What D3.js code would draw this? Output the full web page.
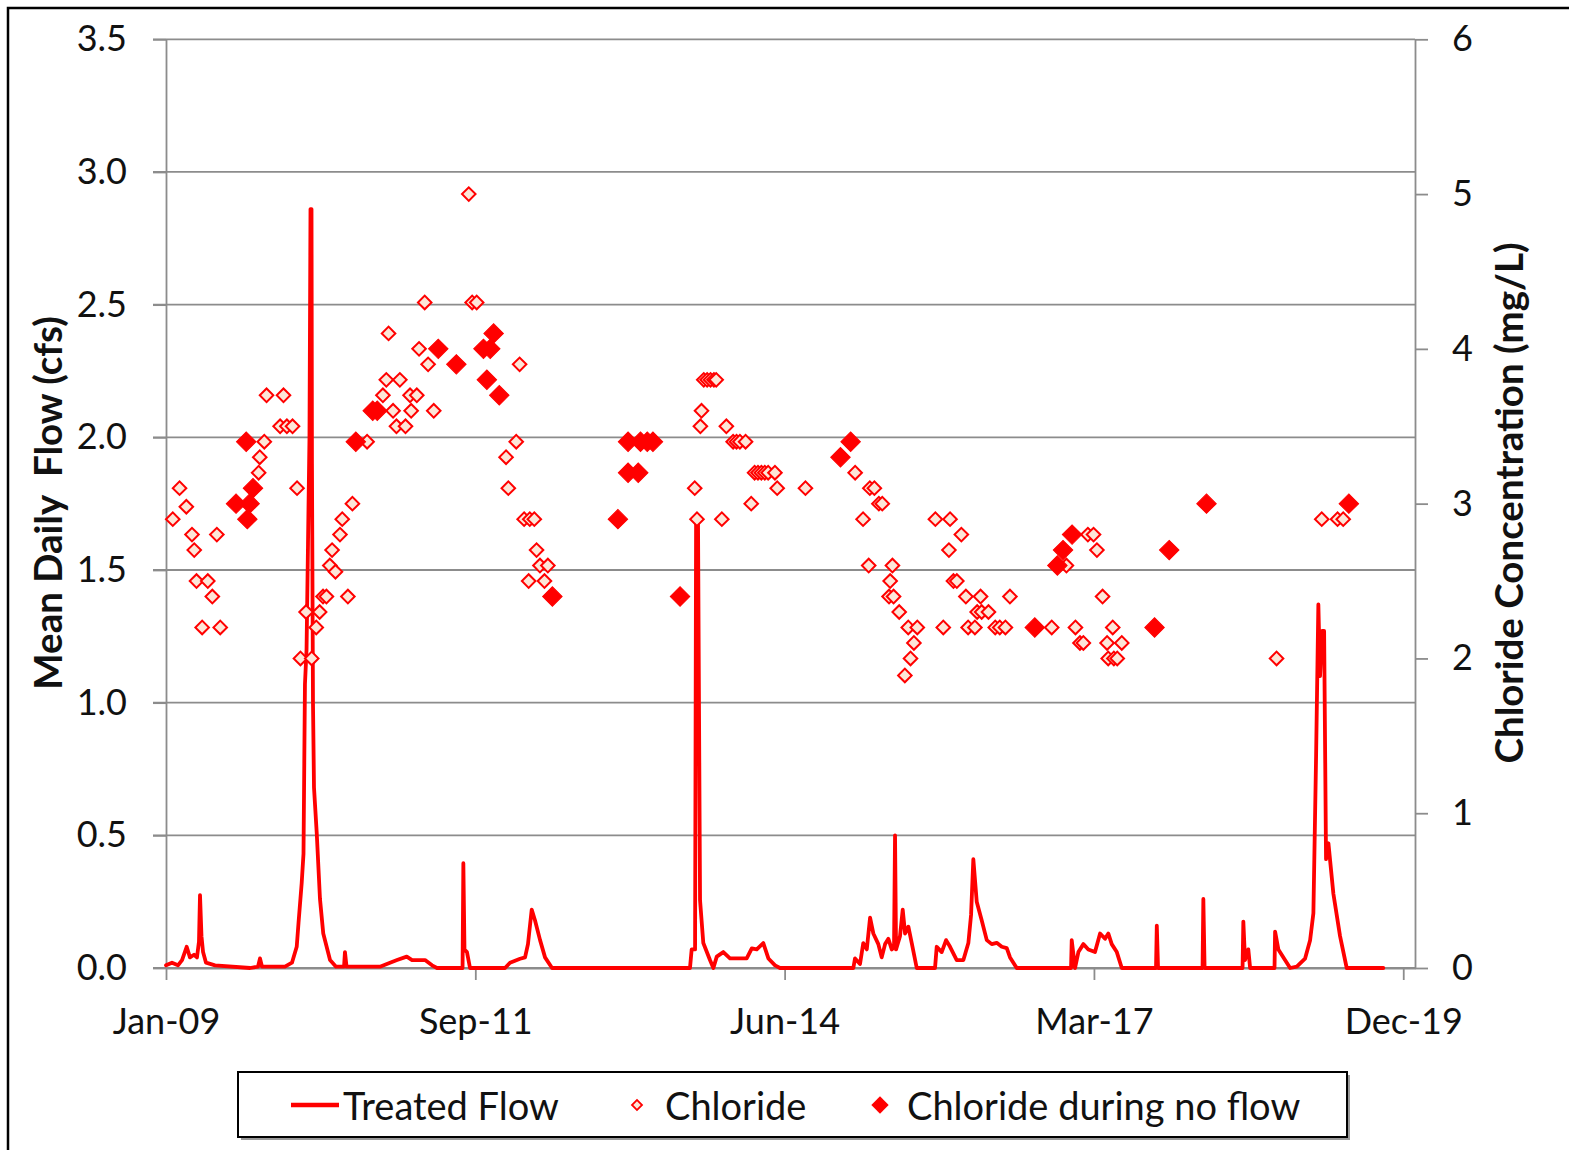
<!DOCTYPE html>
<html>
<head>
<meta charset="utf-8">
<script src="https://cdn.jsdelivr.net/npm/d3@7"></script>
<style>
  html, body { margin: 0; padding: 0; background: #fff; }
  svg { display: block; }
  text { font-family: Lato, "Open Sans", sans-serif; fill: #111; }
</style>
</head>
<body>
<div id="chart"></div>
<script>
// ---------------- DATA (decimal years) ----------------
const flowYears = [2009.000,2009.053,2009.106,2009.142,2009.183,2009.212,2009.248,2009.274,2009.292,2009.301,2009.314,2009.328,2009.354,2009.434,2009.744,2009.814,2009.832,2009.850,2010.053,2010.115,2010.157,2010.173,2010.201,2010.217,2010.230,2010.244,2010.257,2010.270,2010.279,2010.288,2010.292,2010.301,2010.310,2010.334,2010.363,2010.392,2010.452,2010.505,2010.576,2010.584,2010.598,2010.894,2010.983,2011.045,2011.131,2011.178,2011.293,2011.355,2011.399,2011.625,2011.632,2011.642,2011.664,2011.691,2012.001,2012.045,2012.134,2012.178,2012.204,2012.237,2012.266,2012.311,2012.355,2012.417,2013.638,2013.653,2013.683,2013.692,2013.709,2013.727,2013.756,2013.815,2013.845,2013.875,2013.933,2013.992,2014.140,2014.185,2014.229,2014.287,2014.332,2014.391,2014.435,2015.084,2015.099,2015.143,2015.172,2015.203,2015.232,2015.261,2015.305,2015.335,2015.365,2015.394,2015.424,2015.444,2015.453,2015.462,2015.497,2015.521,2015.542,2015.571,2015.601,2015.645,2015.807,2015.822,2015.866,2015.905,2015.940,2015.999,2016.058,2016.102,2016.126,2016.146,2016.176,2016.220,2016.265,2016.309,2016.353,2016.398,2016.442,2016.471,2016.530,2017.011,2017.017,2017.046,2017.076,2017.120,2017.164,2017.223,2017.268,2017.312,2017.341,2017.371,2017.416,2017.460,2017.763,2017.770,2017.781,2018.175,2018.182,2018.193,2018.529,2018.536,2018.551,2018.580,2018.596,2018.812,2018.817,2018.846,2018.905,2018.950,2019.009,2019.082,2019.127,2019.156,2019.180,2019.200,2019.215,2019.233,2019.251,2019.268,2019.289,2019.333,2019.392,2019.451,2019.775];
const flowValues = [0.01,0.02,0.01,0.03,0.08,0.04,0.05,0.04,0.10,0.275,0.12,0.06,0.02,0.01,0.0,0.005,0.036,0.005,0.005,0.02,0.08,0.17,0.32,0.43,1.07,1.20,1.60,2.00,2.86,2.86,1.90,1.00,0.68,0.51,0.26,0.13,0.03,0.005,0.005,0.06,0.005,0.005,0.02,0.03,0.043,0.03,0.03,0.01,0.0,0.0,0.395,0.07,0.06,0.0,0.0,0.02,0.035,0.04,0.09,0.22,0.18,0.105,0.04,0.0,0.0,0.07,0.07,1.69,1.69,0.256,0.094,0.03,0.0,0.043,0.06,0.036,0.036,0.074,0.07,0.094,0.036,0.01,0.0,0.0,0.036,0.015,0.094,0.07,0.19,0.13,0.09,0.04,0.09,0.11,0.07,0.08,0.50,0.07,0.12,0.22,0.13,0.156,0.094,0.0,0.0,0.08,0.06,0.105,0.08,0.03,0.03,0.094,0.20,0.41,0.25,0.18,0.105,0.09,0.095,0.08,0.075,0.04,0.0,0.0,0.105,0.0,0.06,0.09,0.07,0.06,0.13,0.11,0.13,0.09,0.06,0.0,0.0,0.16,0.0,0.0,0.26,0.0,0.0,0.175,0.03,0.07,0.0,0.0,0.137,0.07,0.03,0.0,0.005,0.035,0.105,0.206,0.80,1.37,1.10,1.27,1.27,0.41,0.47,0.28,0.12,0.0,0.0];

const chlorideYears = [2009.06,2009.12,2009.18,2009.23,2009.25,2009.27,2009.32,2009.37,2009.41,2009.45,2009.48,2009.82,2009.83,2009.87,2009.89,2010.01,2010.04,2010.07,2010.12,2010.16,2010.19,2010.24,2010.29,2010.33,2010.36,2010.39,2010.42,2010.45,2010.47,2010.50,2010.54,2010.56,2010.61,2010.65,2010.78,2010.92,2010.95,2010.97,2011.01,2011.04,2011.07,2011.12,2011.16,2011.17,2011.22,2011.24,2011.29,2011.32,2011.37,2011.68,2011.71,2011.75,2012.01,2012.03,2012.10,2012.13,2012.17,2012.21,2012.22,2012.26,2012.28,2012.31,2012.35,2012.38,2013.68,2013.70,2013.73,2013.74,2013.76,2013.79,2013.82,2013.85,2013.87,2013.92,2013.96,2014.02,2014.05,2014.08,2014.13,2014.18,2014.21,2014.24,2014.27,2014.30,2014.33,2014.39,2014.41,2014.66,2015.10,2015.17,2015.22,2015.23,2015.27,2015.31,2015.34,2015.41,2015.40,2015.43,2015.44,2015.49,2015.54,2015.57,2015.59,2015.62,2015.65,2015.81,2015.88,2015.93,2015.94,2015.97,2016.00,2016.04,2016.08,2016.10,2016.16,2016.18,2016.22,2016.21,2016.28,2016.34,2016.38,2016.43,2016.47,2016.84,2016.97,2017.05,2017.09,2017.12,2017.16,2017.21,2017.24,2017.29,2017.33,2017.34,2017.38,2017.39,2017.42,2017.46,2018.83,2019.23,2019.37,2019.42];
const chlorideValues = [2.90,3.10,2.98,2.80,2.70,2.50,2.20,2.50,2.40,2.80,2.20,3.20,3.30,3.40,3.70,3.50,3.70,3.50,3.50,3.10,2.00,2.30,2.00,2.20,2.30,2.40,2.40,2.60,2.70,2.56,2.80,2.90,2.40,3.00,3.40,3.70,3.80,4.10,3.60,3.50,3.80,3.50,3.70,3.60,3.70,4.00,4.30,3.90,3.60,5.00,4.30,4.30,3.30,3.10,3.40,3.90,2.90,2.50,2.90,2.90,2.70,2.60,2.50,2.60,3.10,2.90,3.50,3.60,3.80,3.80,3.80,3.80,3.80,2.90,3.50,3.40,3.40,3.40,3.40,3.00,3.20,3.20,3.20,3.20,3.20,3.20,3.10,3.10,3.20,2.90,2.60,3.10,3.10,3.00,3.00,2.50,2.40,2.60,2.40,2.30,1.89,2.20,2.00,2.10,2.20,2.90,2.20,2.70,2.90,2.50,2.50,2.80,2.40,2.20,2.20,2.30,2.30,2.40,2.30,2.20,2.20,2.20,2.40,2.20,2.60,2.20,2.10,2.10,2.80,2.80,2.70,2.40,2.10,2.00,2.20,2.00,2.00,2.10,2.00,2.90,2.90,2.90];

const noFlowYears = [2009.62,2009.71,2009.72,2009.74,2009.77,2010.68,2010.83,2010.87,2011.41,2011.57,2011.81,2011.84,2011.87,2011.90,2011.95,2012.42,2013.00,2013.09,2013.09,2013.18,2013.20,2013.26,2013.31,2013.55,2014.97,2015.06,2016.69,2016.89,2016.94,2017.02,2017.75,2017.88,2018.21,2019.47];
const noFlowValues = [3.00,3.40,2.90,3.00,3.10,3.40,3.60,3.60,4.00,3.90,4.00,3.80,4.00,4.10,3.70,2.40,2.90,3.20,3.40,3.20,3.40,3.40,3.40,2.40,3.30,3.40,2.20,2.60,2.70,2.80,2.20,2.70,3.00,3.00];

const flowTicks = [0,0.5,1.0,1.5,2.0,2.5,3.0,3.5];
const chlorideTicks = [0,1,2,3,4,5,6];
const dateTickOffsetsDays = [0,1000,2000,3000,4000];
const legendLabels = ["Treated Flow","Chloride","Chloride during no flow"];

// ---------------- CHART ----------------
const W = 1569, H = 1150;
const RED = "#ff0000", GRID = "#8c8c8c";
const DAY = 864e5;
const base = Date.UTC(2009, 0, 1);
const yrToDate = y => new Date(base + (y - 2009) * 365.25 * DAY);

const pLeft = 166, pRight = 1415, pTop = 39.3, pBottom = 968;

const svg = d3.select("#chart").append("svg").attr("width", W).attr("height", H);

// outer frame
svg.append("rect").attr("x", 8).attr("y", 8).attr("width", W + 10).attr("height", H + 10)
  .attr("fill", "#fff").attr("stroke", "#000").attr("stroke-width", 2.5);

const x = d3.scaleUtc().domain([new Date(base), new Date(base + 4038 * DAY)]).range([pLeft, pRight]);
const yL = d3.scaleLinear().domain([0, 3.5]).range([pBottom, pTop]);
const yR = d3.scaleLinear().domain([0, 6]).range([pBottom, pTop]);

// gridlines
svg.append("g").selectAll("line").data(flowTicks).join("line")
  .attr("x1", pLeft - 13).attr("x2", pRight)
  .attr("y1", d => yL(d)).attr("y2", d => yL(d))
  .attr("stroke", GRID).attr("stroke-width", 1.8);

function styleAxis(g) {
  g.selectAll("path").attr("stroke", GRID).attr("stroke-width", 1.8);
  g.selectAll("line").attr("stroke", GRID).attr("stroke-width", 1.8);
  g.selectAll("text").attr("fill", "#111").style("font-family", "Lato, sans-serif").style("font-size", "36px");
}

// left axis
const gL = svg.append("g").attr("transform", `translate(${pLeft},0)`)
  .call(d3.axisLeft(yL).tickValues(flowTicks).tickFormat(d3.format(".1f")).tickSize(13).tickSizeOuter(0).tickPadding(26));
styleAxis(gL);

// right axis
const gR = svg.append("g").attr("transform", `translate(${pRight},0)`)
  .call(d3.axisRight(yR).tickValues(chlorideTicks).tickFormat(d3.format("d")).tickSize(13).tickSizeOuter(0).tickPadding(24));
styleAxis(gR);

// bottom axis
const dateTicks = dateTickOffsetsDays.map(d => new Date(base + d * DAY));
const gB = svg.append("g").attr("transform", `translate(0,${pBottom})`)
  .call(d3.axisBottom(x).tickValues(dateTicks).tickFormat(d3.utcFormat("%b-%y")).tickSize(12).tickSizeOuter(0).tickPadding(28));
styleAxis(gB);

// axis titles
svg.append("text").attr("transform", "translate(47,503) rotate(-90)")
  .attr("text-anchor", "middle").attr("dominant-baseline", "central")
  .style("font-weight", "bold").style("font-size", "38.5px").style("white-space", "pre")
  .text("Mean Daily  Flow (cfs)");
svg.append("text").attr("transform", "translate(1508,503) rotate(-90)")
  .attr("text-anchor", "middle").attr("dominant-baseline", "central")
  .style("font-weight", "bold").style("font-size", "38.5px")
  .text("Chloride Concentration (mg/L)");

// flow line
const flowData = flowYears.map((t, i) => ({ t, v: flowValues[i] }));
svg.append("path").datum(flowData)
  .attr("d", d3.line().x(d => x(yrToDate(d.t))).y(d => yL(d.v)))
  .attr("fill", "none").attr("stroke", RED).attr("stroke-width", 3.8)
  .attr("stroke-linejoin", "round").attr("stroke-linecap", "round");

// markers
const diamond = area => d3.symbol(d3.symbolSquare, area)();
const chlData = chlorideYears.map((t, i) => ({ t, v: chlorideValues[i] }));
svg.append("g").selectAll("path").data(chlData).join("path")
  .attr("d", diamond(92))
  .attr("transform", d => `translate(${x(yrToDate(d.t))},${yR(d.v)}) rotate(45)`)
  .attr("fill", "#fde6d8").attr("stroke", RED).attr("stroke-width", 2);

const nfData = noFlowYears.map((t, i) => ({ t, v: noFlowValues[i] }));
svg.append("g").selectAll("path").data(nfData).join("path")
  .attr("d", diamond(190))
  .attr("transform", d => `translate(${x(yrToDate(d.t))},${yR(d.v)}) rotate(45)`)
  .attr("fill", RED).attr("stroke", RED).attr("stroke-width", 1);

// legend
const lg = svg.append("g");
lg.append("rect").attr("x", 241).attr("y", 1075).attr("width", 1109).attr("height", 65).attr("fill", "#999");
lg.append("rect").attr("x", 238).attr("y", 1072).attr("width", 1109).attr("height", 65)
  .attr("fill", "#fff").attr("stroke", "#000").attr("stroke-width", 2);
lg.append("line").attr("x1", 291).attr("x2", 339).attr("y1", 1105).attr("y2", 1105)
  .attr("stroke", RED).attr("stroke-width", 4.5);
lg.append("path").attr("d", diamond(50)).attr("transform", "translate(637,1105) rotate(45)")
  .attr("fill", "#fde6d8").attr("stroke", RED).attr("stroke-width", 1.8);
lg.append("path").attr("d", diamond(150)).attr("transform", "translate(880,1105) rotate(45)")
  .attr("fill", RED);
const lx = [343, 665, 907];
lg.selectAll("text.l").data(legendLabels).join("text")
  .attr("x", (d, i) => lx[i]).attr("y", 1105).attr("dominant-baseline", "central")
  .style("font-size", "38px").text(d => d);
</script>
</body>
</html>
